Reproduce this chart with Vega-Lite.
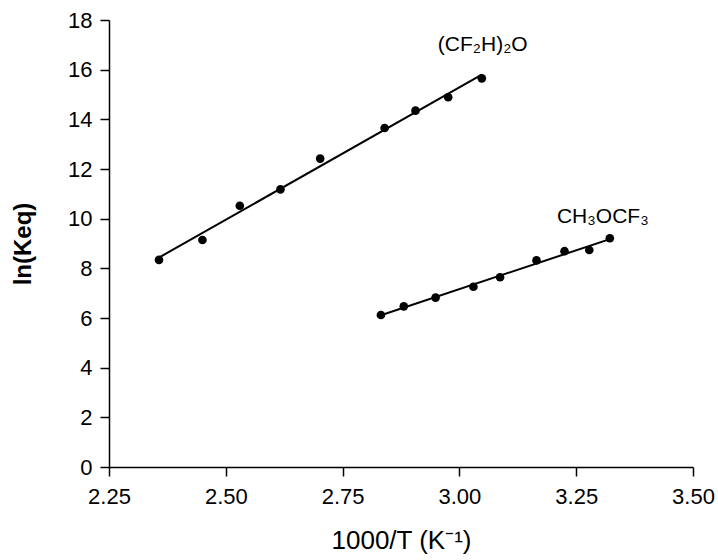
{
  "$schema": "https://vega.github.io/schema/vega-lite/v6.json",
  "width": 584,
  "height": 447,
  "autosize": {"type": "none"},
  "padding": {"left": 109, "top": 20, "right": 25, "bottom": 93},
  "background": "white",
  "config": {
    "view": {"stroke": null},
    "font": "Liberation Sans",
    "axis": {"grid": false, "domainColor": "black", "tickColor": "black", "labelColor": "black", "titleColor": "black", "domainWidth": 1.5, "tickWidth": 1.5}
  },
  "datasets": {
    "pts": [
      {"series": "(CF2H)2O", "x": 2.357, "y": 8.34},
      {"series": "(CF2H)2O", "x": 2.450, "y": 9.14},
      {"series": "(CF2H)2O", "x": 2.530, "y": 10.52},
      {"series": "(CF2H)2O", "x": 2.617, "y": 11.18},
      {"series": "(CF2H)2O", "x": 2.702, "y": 12.42},
      {"series": "(CF2H)2O", "x": 2.840, "y": 13.65},
      {"series": "(CF2H)2O", "x": 2.906, "y": 14.35},
      {"series": "(CF2H)2O", "x": 2.976, "y": 14.89},
      {"series": "(CF2H)2O", "x": 3.048, "y": 15.65},
      {"series": "CH3OCF3", "x": 2.832, "y": 6.12},
      {"series": "CH3OCF3", "x": 2.881, "y": 6.47},
      {"series": "CH3OCF3", "x": 2.949, "y": 6.82},
      {"series": "CH3OCF3", "x": 3.030, "y": 7.26},
      {"series": "CH3OCF3", "x": 3.087, "y": 7.64},
      {"series": "CH3OCF3", "x": 3.165, "y": 8.32},
      {"series": "CH3OCF3", "x": 3.225, "y": 8.69},
      {"series": "CH3OCF3", "x": 3.278, "y": 8.74},
      {"series": "CH3OCF3", "x": 3.322, "y": 9.21}
    ],
    "labels": [
      {"label": "(CF₂H)₂O", "x": 3.05, "y": 17.0},
      {"label": "CH₃OCF₃", "x": 3.307, "y": 10.07}
    ]
  },
  "layer": [
    {
      "data": {"name": "pts"},
      "transform": [{"regression": "y", "on": "x", "groupby": ["series"]}],
      "mark": {"type": "line", "color": "black", "strokeWidth": 2},
      "encoding": {
        "x": {"field": "x", "type": "quantitative", "scale": {"domain": [2.25, 3.5], "nice": false, "zero": false},
          "axis": {"values": [2.25, 2.5, 2.75, 3.0, 3.25, 3.5], "format": ".2f", "title": "1000/T (K⁻¹)", "tickSize": 9, "labelFontSize": 22, "labelPadding": 10, "titleFontSize": 26, "titleFontWeight": "normal", "titlePadding": 20, "labelFlush": false}},
        "y": {"field": "y", "type": "quantitative", "scale": {"domain": [0, 18], "nice": false},
          "axis": {"values": [0, 2, 4, 6, 8, 10, 12, 14, 16, 18], "title": "ln(Keq)", "tickSize": 9, "labelFontSize": 22, "labelPadding": 8, "titleFontSize": 24, "titleFontWeight": "bold", "titlePadding": 32, "labelFlush": false}},
        "detail": {"field": "series"}
      }
    },
    {
      "data": {"name": "pts"},
      "mark": {"type": "point", "filled": true, "color": "black", "opacity": 1, "size": 75},
      "encoding": {
        "x": {"field": "x", "type": "quantitative"},
        "y": {"field": "y", "type": "quantitative"}
      }
    },
    {
      "data": {"name": "labels"},
      "mark": {"type": "text", "fontSize": 21, "color": "black", "align": "center", "baseline": "middle"},
      "encoding": {
        "x": {"field": "x", "type": "quantitative"},
        "y": {"field": "y", "type": "quantitative"},
        "text": {"field": "label"}
      }
    }
  ]
}
